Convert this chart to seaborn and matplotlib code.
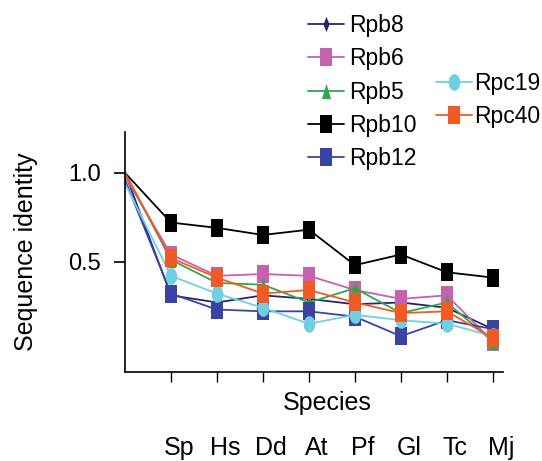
import matplotlib.pyplot as plt
import matplotlib.transforms as mtransforms
import numpy as np
import pandas as pd
import seaborn as sns

# Data (x = 0 is the reference species, no tick label)
species = ['Sp', 'Hs', 'Dd', 'At', 'Pf', 'Gl', 'Tc', 'Mj']
positions = list(range(0, 9))

rpb8 = [1.00, 0.31, 0.27, 0.31, 0.29, 0.26, 0.27, 0.24, 0.12]
rpb6 = [0.98, 0.54, 0.42, 0.43, 0.42, 0.34, 0.29, 0.31, 0.05]
rpb5 = [1.00, 0.51, 0.38, 0.37, 0.27, 0.35, 0.21, 0.27, 0.05]
rpb10 = [1.00, 0.72, 0.69, 0.65, 0.68, 0.48, 0.54, 0.44, 0.41]
rpb12 = [0.96, 0.32, 0.23, 0.22, 0.22, 0.19, 0.08, 0.17, 0.12]
rpc19 = [0.94, 0.42, 0.32, 0.24, 0.15, 0.20, 0.17, 0.15, 0.08]
rpc40 = [1.00, 0.52, 0.41, 0.32, 0.34, 0.27, 0.21, 0.22, 0.07]

series = {
    'Rpb8': rpb8, 'Rpb6': rpb6, 'Rpb5': rpb5, 'Rpb10': rpb10,
    'Rpb12': rpb12, 'Rpc19': rpc19, 'Rpc40': rpc40,
}

df = pd.DataFrame(series)
df['pos'] = positions
long_df = df.melt(id_vars='pos', var_name='protein', value_name='identity')

# tall markers, like the original figure
rect = [(-0.62, -1), (0.62, -1), (0.62, 1), (-0.62, 1), (-0.62, -1)]
diamond = [(0, -1), (0.4, 0), (0, 1), (-0.4, 0), (0, -1)]
tri = [(-0.6, -1), (0.6, -1), (0, 1), (-0.6, -1)]
theta = np.linspace(0, 2 * np.pi, 30)
ellipse = list(zip(0.7 * np.cos(theta), np.sin(theta)))

styles = {
    'Rpb8': ('#25256e', diamond, 11),
    'Rpb6': ('#c561ad', rect, 13),
    'Rpb5': ('#2ea84a', tri, 11),
    'Rpb10': ('#000000', rect, 13),
    'Rpb12': ('#3a43a2', rect, 13),
    'Rpc19': ('#70d0e2', ellipse, 12),
    'Rpc40': ('#f15a24', rect, 13),
}

sns.set_style('ticks')
plt.rcParams['font.family'] = ['Liberation Sans', 'DejaVu Sans']
plt.rcParams['text.color'] = 'black'
plt.rcParams['axes.labelcolor'] = 'black'
plt.rcParams['xtick.color'] = 'black'
plt.rcParams['ytick.color'] = 'black'

fig = plt.figure(figsize=(5.42, 4.61), dpi=100)
ax = fig.add_axes([0.2306, 0.1937, 0.6974, 0.52])

for name, (color, marker, ms) in styles.items():
    sub = long_df[long_df['protein'] == name]
    sns.lineplot(data=sub, x='pos', y='identity', ax=ax, color=color,
                 marker=marker, markersize=ms, markeredgewidth=0,
                 markevery=list(range(1, 9)), linewidth=1.3,
                 label=name, sort=False)

ax.set_xlim(0, 8.22)
ax.set_ylim(-0.12, 1.23)
ax.set_xticks(range(1, 9))
ax.set_xticklabels(species)
ax.set_yticks([1.0, 0.5])
ax.set_yticklabels(['1.0', '0.5'])
sns.despine(ax=ax)
for s in ['left', 'bottom']:
    ax.spines[s].set_linewidth(1.2)
    ax.spines[s].set_color('black')

ax.tick_params(axis='y', direction='out', length=8, width=1.2, pad=9, labelsize=17)
ax.tick_params(axis='x', direction='out', length=7, width=1.0, pad=39, labelsize=18)

# tick labels sit a little to the right of their ticks in the original
shift = mtransforms.ScaledTranslation(8 / 100, 0, fig.dpi_scale_trans)
for lbl in ax.get_xticklabels():
    lbl.set_transform(lbl.get_transform() + shift)

ax.set_ylabel('Sequence identity', fontsize=18)
ax.yaxis.set_label_coords(-0.23, 0.5)
ax.set_xlabel('Species', fontsize=18, va='top')
ax.xaxis.set_label_coords(0.536, -0.08)

handles, labels = ax.get_legend_handles_labels()
leg1 = ax.legend(handles[:5], labels[:5], loc='upper left',
                 bbox_to_anchor=(308 / 542, 1 - 14 / 461),
                 bbox_transform=fig.transFigure, frameon=False, fontsize=16.5,
                 handlelength=1.55, handletextpad=0.25, labelspacing=0.45,
                 borderpad=0, borderaxespad=0)
ax.add_artist(leg1)
ax.legend(handles[5:], labels[5:], loc='upper left',
          bbox_to_anchor=(436 / 542, 1 - 72 / 461),
          bbox_transform=fig.transFigure, frameon=False, fontsize=16.5,
          handlelength=1.55, handletextpad=0.1, labelspacing=0.45,
          borderpad=0, borderaxespad=0)

fig.savefig('out.png', dpi=100)
